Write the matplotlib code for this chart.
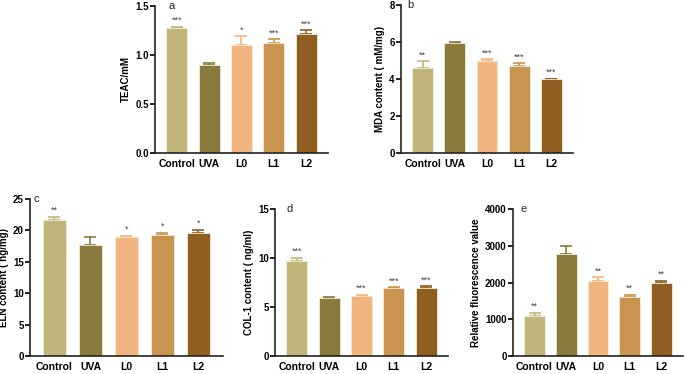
import matplotlib
matplotlib.use("Agg")
import matplotlib.pyplot as plt
from matplotlib.transforms import offset_copy
import numpy as np

plt.rcParams['font.family'] = ['Liberation Sans', 'DejaVu Sans']
plt.rcParams['font.weight'] = 'bold'

groups = ["Control", "UVA", "L0", "L1", "L2"]
colors = ["#C2B57C", "#8A7A3B", "#F2B57F", "#C8944F", "#8F5E20"]

teac = [1.28, 0.90, 1.10, 1.12, 1.21]
teac_err = [0.01, 0.02, 0.09, 0.04, 0.04]
teac_sig = ["***", "", "*", "***", "***"]

mda = [4.6, 5.95, 4.95, 4.7, 3.97]
mda_err = [0.35, 0.03, 0.12, 0.15, 0.05]
mda_sig = ["**", "", "***", "***", "***"]

eln = [21.6, 17.7, 18.9, 19.3, 19.6]
eln_err = [0.6, 1.2, 0.2, 0.3, 0.5]
eln_sig = ["**", "", "*", "*", "*"]

col1 = [9.7, 5.9, 6.1, 6.95, 6.95]
col1_err = [0.35, 0.1, 0.15, 0.08, 0.15]
col1_sig = ["***", "", "***", "***", "***"]

fluo = [1080, 2770, 2030, 1600, 1990]
fluo_err = [100, 220, 120, 70, 60]
fluo_sig = ["**", "", "**", "**", "**"]

panels = [
    dict(rect=[0.2263, 0.591, 0.2525, 0.393], vals=teac, err=teac_err, sig=teac_sig,
         ylim=1.5, ticks=[0.0, 0.5, 1.0, 1.5], fmt="{:.1f}", ylabel="TEAC/mM", letter="a", loff=13),
    dict(rect=[0.5854, 0.591, 0.2511, 0.396], vals=mda, err=mda_err, sig=mda_sig,
         ylim=8, ticks=[0, 2, 4, 6, 8], fmt="{:d}", ylabel="MDA content ( mM/mg)", letter="b", loff=6),
    dict(rect=[0.0438, 0.0481, 0.2817, 0.420], vals=eln, err=eln_err, sig=eln_sig,
         ylim=25, ticks=[0, 5, 10, 15, 20, 25], fmt="{:d}", ylabel="ELN content ( ng/mg)", letter="c", loff=3),
    dict(rect=[0.4015, 0.0481, 0.2525, 0.393], vals=col1, err=col1_err, sig=col1_sig,
         ylim=15, ticks=[0, 5, 10, 15], fmt="{:d}", ylabel="COL-1 content ( ng/ml)", letter="d", loff=11),
    dict(rect=[0.7489, 0.0481, 0.2481, 0.393], vals=fluo, err=fluo_err, sig=fluo_sig,
         ylim=4000, ticks=[0, 1000, 2000, 3000, 4000], fmt="{:d}", ylabel="Relative fluorescence value", letter="e", loff=8),
]

fig = plt.figure(figsize=(6.85, 3.74), dpi=100)
x = np.arange(len(groups))
for p in panels:
    ax = fig.add_axes(p["rect"])
    for i in range(len(groups)):
        ax.bar(x[i], p["vals"][i], width=0.65, color=colors[i], edgecolor="#f3e9d2", linewidth=0.6, zorder=2)
        ax.errorbar(x[i], p["vals"][i], yerr=[[0], [p["err"][i]]], fmt="none",
                    ecolor=colors[i], elinewidth=1.2, capsize=4, capthick=1.2, zorder=1)
        if p["sig"][i]:
            ax.text(x[i], p["vals"][i] + p["err"][i] + p["ylim"] * 0.012, p["sig"][i],
                    ha="center", va="bottom", fontsize=6.5, fontweight="normal", color="#444444")
    ax.set_xlim(-0.68, 4.68)
    ax.set_ylim(0, p["ylim"])
    ax.set_yticks(p["ticks"])
    ax.set_yticklabels([p["fmt"].format(t) for t in p["ticks"]], fontsize=7, fontweight="bold")
    ax.set_xticks(x)
    ax.set_xticklabels(groups, fontsize=7.5, fontweight="bold")
    ax.tick_params(axis="x", length=0, pad=4)
    ax.tick_params(axis="y", length=3.5, width=1.2, pad=1)
    for s in ["top", "right"]:
        ax.spines[s].set_visible(False)
    for s in ["left", "bottom"]:
        ax.spines[s].set_linewidth(1.2)
        ax.spines[s].set_color("#222222")
    ax.set_ylabel(p["ylabel"], fontsize=7, fontweight="bold", labelpad=3)
    tr = offset_copy(ax.transAxes, fig=fig, x=p["loff"] * 0.72, y=0, units="points")
    ax.text(0.0, 1.0, p["letter"], transform=tr, ha="left", va="center",
            fontsize=8, fontweight="normal", color="#222222")

fig.savefig("out.png", dpi=100)
